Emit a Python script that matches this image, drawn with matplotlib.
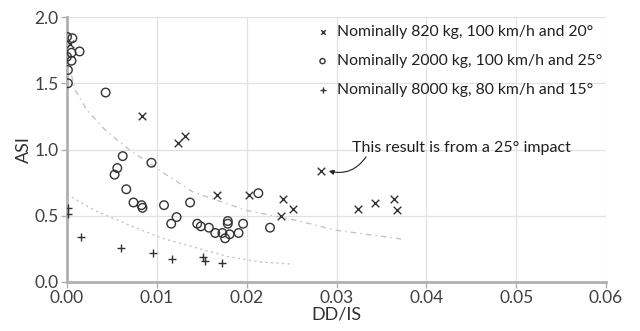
import matplotlib
matplotlib.use("Agg")
import matplotlib.pyplot as plt

plt.rcParams['font.family'] = ['Lato', 'DejaVu Sans']

# Nominally 820 kg, 100 km/h, 20 deg
x820 = [0.0003, 0.0083, 0.0124, 0.0131, 0.0167, 0.0203, 0.0241, 0.0252, 0.0238,
        0.0283, 0.0324, 0.0343, 0.0364, 0.0367]
y820 = [1.80, 1.25, 1.05, 1.10, 0.66, 0.66, 0.63, 0.55, 0.50,
        0.84, 0.55, 0.60, 0.63, 0.54]

# Nominally 2000 kg, 100 km/h, 25 deg
x2000 = [0.0000, 0.0006, 0.0005, 0.0014, 0.0000, 0.0005, 0.0001, 0.0001, 0.0043,
         0.0062, 0.0094, 0.0056, 0.0053, 0.0066, 0.0074, 0.0083, 0.0084, 0.0108,
         0.0137, 0.0122, 0.0116, 0.0145, 0.0149, 0.0158, 0.0165, 0.0173, 0.0176,
         0.0181, 0.0191, 0.0179, 0.0179, 0.0196, 0.0213, 0.0226]
y2000 = [1.85, 1.84, 1.73, 1.74, 1.70, 1.67, 1.60, 1.50, 1.43,
         0.95, 0.90, 0.86, 0.81, 0.70, 0.60, 0.58, 0.56, 0.58,
         0.60, 0.49, 0.44, 0.44, 0.42, 0.41, 0.37, 0.37, 0.33,
         0.36, 0.37, 0.46, 0.44, 0.44, 0.67, 0.41]

# Nominally 8000 kg, 80 km/h, 15 deg
x8000 = [0.0001, 0.0001, 0.0016, 0.0060, 0.0096, 0.0117, 0.0151, 0.0154, 0.0173]
y8000 = [0.56, 0.51, 0.34, 0.26, 0.22, 0.17, 0.19, 0.16, 0.14]

# Trend lines
xt_up = [0.0005, 0.0009, 0.0022, 0.0042, 0.0069, 0.0106, 0.0140, 0.0200, 0.0252, 0.0300, 0.0372]
yt_up = [1.56, 1.45, 1.30, 1.15, 1.00, 0.83, 0.68, 0.54, 0.47, 0.39, 0.325]
xt_lo = [0.0000, 0.0031, 0.0069, 0.0106, 0.0143, 0.0180, 0.0217, 0.0252]
yt_lo = [0.66, 0.54, 0.43, 0.33, 0.26, 0.19, 0.15, 0.135]

labels = ["Nominally 820 kg, 100 km/h and 20°",
          "Nominally 2000 kg, 100 km/h and 25°",
          "Nominally 8000 kg, 80 km/h and 15°"]

fig = plt.figure(figsize=(6.4, 3.31), dpi=100)
ax = fig.add_axes([67/640, 1-282/331, (606-67)/640, (282-17)/331])

mk = '#333333'
ax.plot(xt_up, yt_up, color='#c4c4c4', lw=1.0, ls=(0, (4, 3, 1, 3)), zorder=1)
ax.plot(xt_lo, yt_lo, color='#c4c4c4', lw=1.0, ls=(0, (1.5, 2.5)), zorder=1)

ax.scatter(x820, y820, marker='x', s=30, color=mk, linewidths=1.0, label=labels[0], zorder=3)
ax.scatter(x2000, y2000, marker='o', s=38, facecolors='none', edgecolors=mk, linewidths=1.0,
           label=labels[1], zorder=3)
ax.scatter(x8000, y8000, marker='+', s=40, color=mk, linewidths=1.0, label=labels[2], zorder=3)

ax.set_xlim(0, 0.06)
ax.set_ylim(0, 2.0)
ax.set_xticks([0, 0.01, 0.02, 0.03, 0.04, 0.05, 0.06])
ax.set_xticklabels(["0.00", "0.01", "0.02", "0.03", "0.04", "0.05", "0.06"])
ax.set_yticks([0, 0.5, 1.0, 1.5, 2.0])
ax.set_yticklabels(["0.0", "0.5", "1.0", "1.5", "2.0"])
ax.grid(True, color='#e2e2e2', lw=0.9)
ax.set_axisbelow(True)
for s in ['top', 'right']:
    ax.spines[s].set_visible(False)
for s in ['left', 'bottom']:
    ax.spines[s].set_color('#b0b0b0')
    ax.spines[s].set_linewidth(2.0)
ax.tick_params(axis='both', colors='#b0b0b0', labelcolor='#404040', labelsize=12.5,
               length=4, width=1.0, pad=2)
ax.set_xlabel("DD/IS", fontsize=13, color='#303030', labelpad=0)
ax.set_ylabel("ASI", fontsize=13, color='#303030', labelpad=2)

leg = ax.legend(loc='upper right', bbox_to_anchor=(1.013, 1.01), frameon=False, fontsize=11.3,
                handlelength=0.8, handletextpad=0.5, labelspacing=0.95, markerscale=0.6,
                borderaxespad=0.3)
for t in leg.get_texts():
    t.set_color('#202020')

ax.text(0.0317, 1.01, "This result is from a 25° impact", fontsize=11.5, color='#202020',
        ha='left', va='center')
ax.annotate("", xy=(0.0290, 0.84), xytext=(0.0333, 0.945),
            arrowprops=dict(arrowstyle='-|>', color='#202020', lw=0.8,
                            connectionstyle='arc3,rad=-0.35', shrinkA=0, shrinkB=1,
                            mutation_scale=7))

fig.savefig("out.png", dpi=100)
